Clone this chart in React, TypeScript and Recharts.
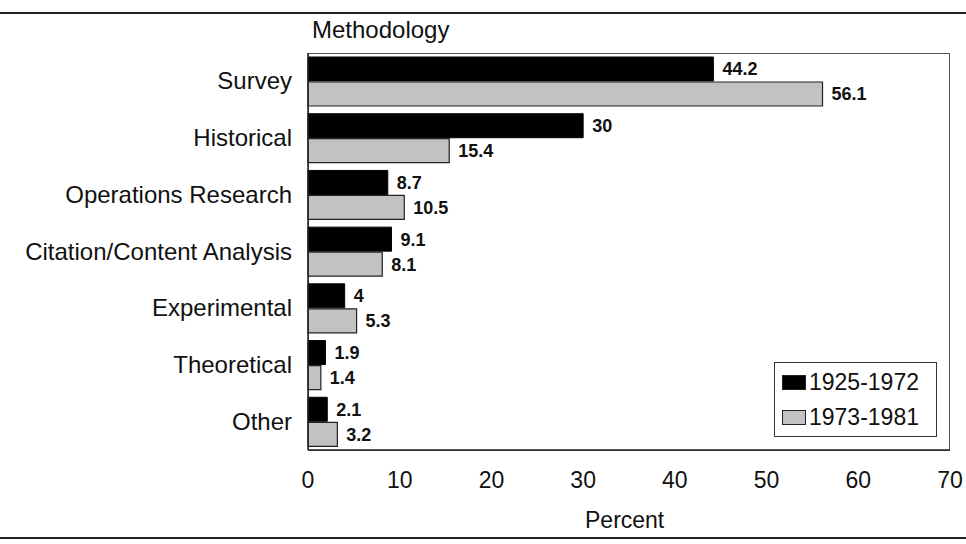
import React from "react";
import {
  BarChart, Bar, XAxis, YAxis, LabelList,
} from "recharts";

const categories = [
  "Survey",
  "Historical",
  "Operations Research",
  "Citation/Content Analysis",
  "Experimental",
  "Theoretical",
  "Other",
];
const early = [44.2, 30, 8.7, 9.1, 4, 1.9, 2.1];
const late = [56.1, 15.4, 10.5, 8.1, 5.3, 1.4, 3.2];
const xTicks = [0, 10, 20, 30, 40, 50, 60, 70];
const seriesNames = ["1925-1972", "1973-1981"];

const data = categories.map((name, i) => ({
  name,
  early: early[i],
  late: late[i],
}));

const FONT = "'Liberation Sans', Arial, sans-serif";
const GRAY = "#c2c2c2";

const CategoryTick = ({ x, y, payload }: any) => (
  <text
    x={x - 8}
    y={y}
    dy={8}
    textAnchor="end"
    fontFamily={FONT}
    fontSize={24}
    fill="#111"
  >
    {payload.value}
  </text>
);

const PercentTick = ({ x, y, payload }: any) => (
  <text
    x={x}
    y={y}
    dy={30}
    textAnchor="middle"
    fontFamily={FONT}
    fontSize={23}
    fill="#111"
  >
    {payload.value}
  </text>
);

// legend drawn outside recharts so it doesn't eat plot space
const ChartLegend = () => (
  <div
    style={{
      position: "absolute",
      left: 774,
      top: 362,
      border: "1px solid #333",
      width: 163,
      height: 75,
      boxSizing: "border-box",
      background: "#fff",
      fontFamily: FONT,
      fontSize: 23,
      color: "#111",
      padding: "2px 0 0 7px",
    }}
  >
    {seriesNames.map((s, i) => (
      <div key={s} style={{ display: "flex", alignItems: "center", height: 35 }}>
        <span
          style={{
            display: "inline-block",
            width: 24,
            height: 15,
            background: i === 0 ? "#000" : GRAY,
            border: "1px solid #222",
            boxSizing: "border-box",
            marginRight: 3,
          }}
        />
        {s}
      </div>
    ))}
  </div>
);

export default function App() {
  return (
    <div
      style={{
        position: "absolute",
        left: 0,
        top: 0,
        width: 966,
        height: 544,
        background: "#fff",
        overflow: "hidden",
      }}
    >
      {/* page rules */}
      <div style={{ position: "absolute", left: 0, top: 12, width: 966, height: 2, background: "#222" }} />
      <div style={{ position: "absolute", left: 0, top: 537, width: 966, height: 2, background: "#222" }} />
      <div
        style={{
          position: "absolute",
          left: 312,
          top: 15,
          fontFamily: FONT,
          fontSize: 24,
          color: "#111",
          lineHeight: "30px",
        }}
      >
        Methodology
      </div>
      {/* plot frame */}
      <div
        style={{
          position: "absolute",
          left: 308,
          top: 53,
          width: 642,
          height: 398,
          border: "1px solid #555",
          boxSizing: "border-box",
        }}
      />
      <div
        style={{
          position: "absolute",
          left: 585,
          top: 507,
          fontFamily: FONT,
          fontSize: 23,
          color: "#111",
        }}
      >
        Percent
      </div>
      <BarChart
        width={966}
        height={544}
        data={data}
        layout="vertical"
        margin={{ top: 53, right: 16, left: 8, bottom: 34 }}
        barCategoryGap={4}
        barGap={1}
        style={{ position: "absolute", left: 0, top: 0 }}
      >
        <XAxis
          type="number"
          domain={[0, 70]}
          ticks={xTicks}
          height={60}
          tick={<PercentTick />}
          tickLine={false}
          axisLine={{ stroke: "#222", strokeWidth: 1.5 }}
        />
        <YAxis
          type="category"
          dataKey="name"
          width={300}
          tick={<CategoryTick />}
          tickLine={false}
          axisLine={{ stroke: "#222", strokeWidth: 1.5 }}
        />
        <Bar dataKey="early" name={seriesNames[0]} fill="#000" stroke="#000" isAnimationActive={false}>
          <LabelList
            dataKey="early"
            position="right"
            offset={9}
            fontFamily={FONT}
            fontSize={18}
            fontWeight="bold"
            fill="#111"
          />
        </Bar>
        <Bar dataKey="late" name={seriesNames[1]} fill={GRAY} stroke="#222" strokeWidth={1.2} isAnimationActive={false}>
          <LabelList
            dataKey="late"
            position="right"
            offset={9}
            fontFamily={FONT}
            fontSize={18}
            fontWeight="bold"
            fill="#111"
          />
        </Bar>
      </BarChart>
      <ChartLegend />
    </div>
  );
}
